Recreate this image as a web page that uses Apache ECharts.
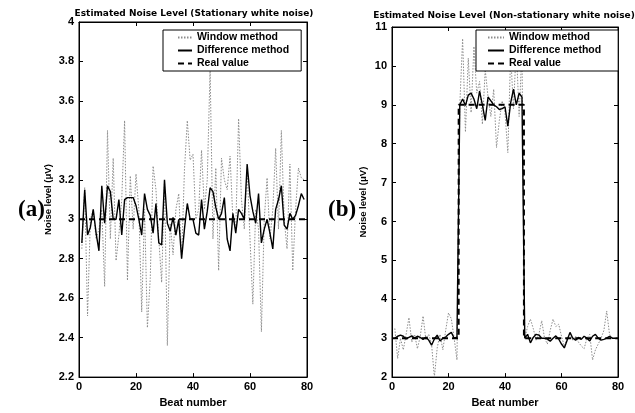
<!DOCTYPE html>
<html>
<head>
<meta charset="utf-8">
<script src="https://cdn.jsdelivr.net/npm/echarts@6/dist/echarts.min.js"></script>
<style>
html,body{margin:0;padding:0;background:#fff;}
#chart{width:635px;height:413px;}
</style>
</head>
<body>
<div id="chart"></div>
<script>
// ---- Data ----
var beatsA = Array.from({length: 79}, function (_, i) { return i + 1; });
var beatsB = Array.from({length: 79}, function (_, i) { return i + 1; });

var windowA = [2.85,3.16,2.51,3.0,3.05,2.9,2.95,3.05,2.66,3.45,
               2.9,3.31,2.79,2.92,3.1,3.5,2.69,3.22,2.95,3.23,
               3.05,2.53,3.05,2.45,2.7,3.27,3.15,2.9,2.68,3.2,
               2.36,2.98,2.82,3.05,3.13,2.8,3.25,3.5,3.3,3.33,
               3.0,3.05,3.35,3.05,3.2,3.76,2.9,3.26,2.74,3.31,
               3.2,3.15,3.32,3.0,2.95,3.51,3.1,2.95,3.25,2.9,
               2.57,3.05,2.95,2.43,3.0,3.21,2.9,3.05,3.36,2.95,
               3.45,3.0,2.85,3.28,2.74,3.05,3.26,3.21,3.2];
var diffA = [2.88,3.15,2.92,2.96,3.05,2.93,2.84,3.17,2.98,3.17,
             3.14,3.0,3.0,3.1,2.92,3.1,3.11,3.11,3.11,3.07,
             3.0,2.92,3.13,3.05,3.02,2.93,3.08,2.88,2.87,3.2,
             2.98,2.94,3.01,2.92,3.0,2.8,2.95,3.08,3.0,3.0,
             2.93,2.92,3.1,2.95,3.04,3.16,3.14,3.06,3.0,3.03,
             3.11,2.9,2.84,3.03,2.93,3.05,3.03,3.0,3.28,3.12,
             3.04,2.98,3.13,2.88,2.95,3.0,2.93,2.85,3.05,3.1,
             3.17,2.97,2.95,3.03,3.0,3.02,3.07,3.13,3.1];
var realAx = [0, 80];
var realAy = [3, 3];

var windowB = [3.25,2.48,3.0,2.7,3.1,3.53,2.9,3.1,2.73,3.05,
               3.57,2.95,3.1,2.85,2.0,2.75,3.1,2.7,3.2,3.65,
               3.5,3.0,2.44,9.0,10.7,8.3,10.2,8.8,10.5,9.3,
               9.6,8.5,9.9,9.2,8.7,9.4,7.9,8.6,9.1,8.8,
               7.77,10.3,8.9,10.5,8.7,10.4,3.0,3.3,3.49,3.25,
               2.95,3.1,3.45,3.0,2.85,3.2,3.49,3.3,3.36,3.05,
               2.8,3.0,3.1,2.95,3.05,2.9,2.8,2.73,3.0,3.1,
               2.44,2.7,2.85,3.0,3.2,3.7,3.1,3.0,3.0];
var diffB = [3.0,3.05,3.08,3.05,2.98,3.02,3.06,3.0,3.05,3.02,
             2.97,3.03,2.95,2.82,2.98,3.08,2.93,3.0,3.03,3.1,
             3.15,3.0,3.03,9.0,9.15,8.98,9.25,9.3,9.15,8.9,
             9.35,9.0,8.6,9.2,9.1,9.0,8.95,8.88,8.9,8.95,
             8.45,9.05,9.4,9.0,9.3,9.2,3.0,3.1,2.88,3.02,
             3.1,3.08,3.0,3.0,2.98,2.92,3.0,3.06,2.98,2.85,
             2.75,2.95,3.15,3.0,2.95,3.02,2.97,3.05,3.0,2.93,
             3.05,3.1,3.0,2.95,2.97,3.0,3.05,3.0,3.0];
var realBx = [0, 23.6, 23.6, 46.7, 46.7, 80];
var realBy = [3, 3, 9, 9, 3, 3];

var xTicks = [0, 20, 40, 60, 80];
var titles = ['Estimated Noise Level (Stationary white noise)', 'Estimated Noise Level (Non-stationary white noise)'];
var seriesNames = ['Window method', 'Difference method', 'Real value'];

// ---- Helpers ----
function pairs(xs, ys) { return xs.map(function (x, i) { return [x, ys[i]]; }); }
var FONT = '"Liberation Sans", Arial, sans-serif';
var lblStyle = {color: '#000', fontFamily: FONT, fontWeight: 'bold', fontSize: 11};

function xAx(grid, pos, showLabel) {
  return {
    gridIndex: grid, type: 'value', position: pos, min: xTicks[0], max: xTicks[xTicks.length - 1], interval: 20,
    axisLine: {show: true, onZero: false, lineStyle: {color: '#000', width: 1}},
    axisTick: {show: true, inside: true, length: 4, lineStyle: {color: '#000'}},
    axisLabel: Object.assign({show: showLabel, margin: 4}, lblStyle),
    splitLine: {show: false},
    name: showLabel ? 'Beat number' : '', nameLocation: 'middle', nameGap: 17,
    nameTextStyle: {color: '#000', fontFamily: FONT, fontWeight: 'bold', fontSize: 11}
  };
}
function yAx(grid, pos, showLabel, mn, mx, iv, gap) {
  return {
    gridIndex: grid, type: 'value', position: pos, min: mn, max: mx, interval: iv,
    axisLine: {show: true, onZero: false, lineStyle: {color: '#000', width: 1}},
    axisTick: {show: true, inside: true, length: 4, lineStyle: {color: '#000'}},
    axisLabel: Object.assign({show: showLabel, margin: 5, formatter: function (v) { return String(Math.round(v * 10) / 10); }}, lblStyle),
    splitLine: {show: false},
    name: showLabel ? 'Noise level (\u03bcV)' : '', nameLocation: 'middle', nameGap: gap, nameRotate: 90,
    nameTextStyle: {color: '#000', fontFamily: FONT, fontWeight: 'bold', fontSize: 9.5}
  };
}

var winStyle = {color: '#8c8c8c', width: 1, type: [1.5, 1.5]};
var diffStyle = {color: '#000', width: 1.4, type: 'solid'};
var realStyle = {color: '#000', width: 2, type: [6, 4]};

function mk(name, data, xi, yi, style, z) {
  return {name: name, type: 'line', xAxisIndex: xi, yAxisIndex: yi, data: data, showSymbol: false, symbol: 'none',
    lineStyle: style, itemStyle: {color: style.color}, animation: false, z: z, silent: true};
}

var legendBase = {
  orient: 'vertical', data: seriesNames, backgroundColor: '#fff', borderColor: '#000', borderWidth: 1,
  itemGap: 2, itemHeight: 10, textStyle: {color: '#000', fontFamily: FONT, fontWeight: 'bold', fontSize: 10.5},
  itemStyle: {opacity: 0, borderWidth: 0},
  selectedMode: false, z: 10
};

var option = {
  backgroundColor: '#fff',
  animation: false,
  title: [
    {text: titles[0], left: 194, top: 9, padding: 0, textAlign: 'center', textStyle: {fontFamily: '"DejaVu Sans", sans-serif', fontWeight: 'bold', fontSize: 9, color: '#000'}},
    {text: titles[1], left: 504, top: 11, padding: 0, textAlign: 'center', textStyle: {fontFamily: '"DejaVu Sans", sans-serif', fontWeight: 'bold', fontSize: 9, color: '#000'}}
  ],
  grid: [
    {left: 79, right: 328, top: 22, bottom: 30, show: true, borderColor: '#000', borderWidth: 1, backgroundColor: '#fff'},
    {left: 392, right: 17, top: 27, bottom: 29, show: true, borderColor: '#000', borderWidth: 1, backgroundColor: '#fff'}
  ],
  xAxis: [xAx(0, 'bottom', true), xAx(0, 'top', false), xAx(1, 'bottom', true), xAx(1, 'top', false)],
  yAxis: [yAx(0, 'left', true, 2.2, 4, 0.2, 26), yAx(0, 'right', false, 2.2, 4, 0.2, 26),
          yAx(1, 'left', true, 2, 11, 1, 24), yAx(1, 'right', false, 2, 11, 1, 24)],
  legend: [
    Object.assign({left: 163, top: 30, itemWidth: 14, padding: [2, 12, 2, 14]}, legendBase),
    Object.assign({left: 476, top: 30, itemWidth: 16, padding: [2, 17, 2, 11]}, legendBase)
  ],
  graphic: [
    {type: 'text', left: 18, top: 199, style: {text: '(a)', fontFamily: '"Liberation Serif", "Times New Roman", serif', fontWeight: 'bold', fontSize: 23, fill: '#000'}},
    {type: 'text', left: 328, top: 199, style: {text: '(b)', fontFamily: '"Liberation Serif", "Times New Roman", serif', fontWeight: 'bold', fontSize: 23, fill: '#000'}}
  ],
  series: [
    mk(seriesNames[0], pairs(beatsA, windowA), 0, 0, winStyle, 2),
    mk(seriesNames[1], pairs(beatsA, diffA), 0, 0, diffStyle, 3),
    mk(seriesNames[2], pairs(realAx, realAy), 0, 0, realStyle, 4),
    mk(seriesNames[0], pairs(beatsB, windowB), 2, 2, winStyle, 2),
    mk(seriesNames[1], pairs(beatsB, diffB), 2, 2, diffStyle, 3),
    mk(seriesNames[2], pairs(realBx, realBy), 2, 2, realStyle, 4)
  ]
};

var chart = echarts.init(document.getElementById('chart'), null, {renderer: 'canvas'});
chart.setOption(option);
</script>
</body>
</html>
